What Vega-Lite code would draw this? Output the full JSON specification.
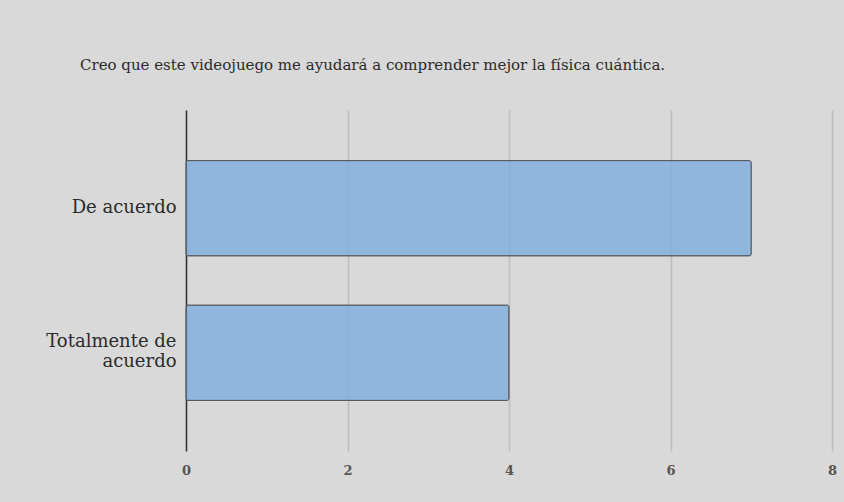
{
  "$schema": "https://vega.github.io/schema/vega-lite/v6.json",
  "autosize": {"type": "none"},
  "padding": {"left": 186, "top": 110, "right": 12, "bottom": 51},
  "width": 646,
  "height": 341,
  "background": "#d9d9d9",
  "title": {
    "text": "Creo que este videojuego me ayudará a comprender mejor la física cuántica.",
    "anchor": "start",
    "frame": "group",
    "dx": -106,
    "offset": 37,
    "font": "DejaVu Serif",
    "fontSize": 15,
    "fontWeight": "normal",
    "color": "#2b2b2b"
  },
  "data": {
    "values": [
      {"respuesta": "De acuerdo", "cantidad": 7},
      {"respuesta": "Totalmente de acuerdo", "cantidad": 4}
    ]
  },
  "mark": {
    "type": "bar",
    "fill": "#82afdd",
    "fillOpacity": 0.85,
    "stroke": "#555555",
    "strokeWidth": 1,
    "cornerRadius": 2
  },
  "encoding": {
    "y": {
      "field": "respuesta",
      "type": "nominal",
      "sort": ["De acuerdo", "Totalmente de acuerdo"],
      "scale": {"paddingInner": 0.34, "paddingOuter": 0.35},
      "axis": {
        "title": null,
        "ticks": false,
        "grid": false,
        "domain": true,
        "domainColor": "#333333",
        "domainWidth": 1.5,
        "labelPadding": 10,
        "labelFont": "DejaVu Serif",
        "labelFontSize": 18,
        "labelColor": "#2b2b2b",
        "labelLineHeight": 20,
        "labelOffset": {
          "condition": {"test": "datum.value == 'Totalmente de acuerdo'", "value": -11},
          "value": 0
        },
        "labelExpr": "datum.label == 'Totalmente de acuerdo' ? ['Totalmente de', 'acuerdo'] : datum.label"
      }
    },
    "x": {
      "field": "cantidad",
      "type": "quantitative",
      "scale": {"domain": [0, 8], "nice": false},
      "axis": {
        "title": null,
        "values": [0, 2, 4, 6, 8],
        "ticks": false,
        "domain": false,
        "grid": true,
        "gridColor": "#bdbdbd",
        "gridWidth": 1.5,
        "labelFlush": false,
        "labelPadding": 13,
        "labelFont": "DejaVu Serif",
        "labelFontSize": 13,
        "labelFontWeight": "bold",
        "labelColor": "#555555"
      }
    }
  },
  "config": {"view": {"stroke": null}}
}
